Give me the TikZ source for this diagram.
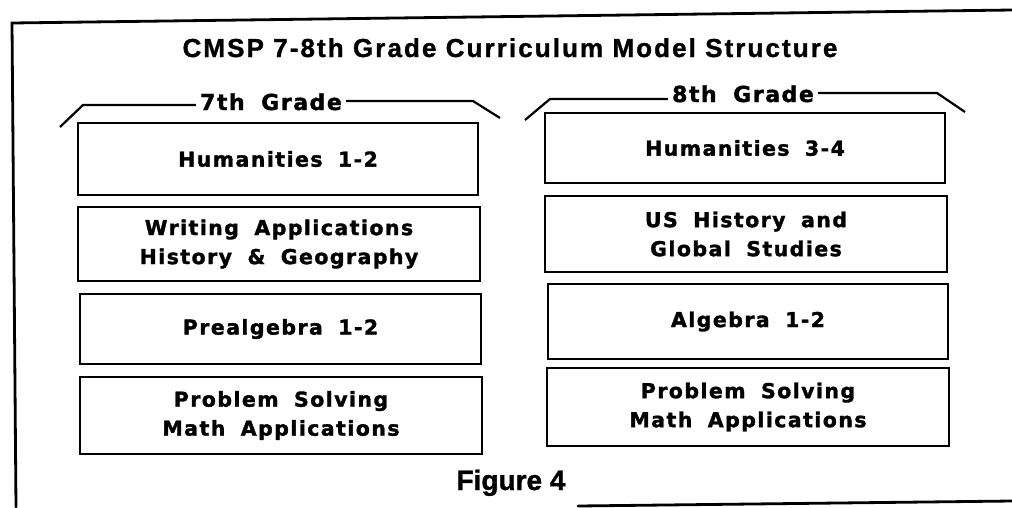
\documentclass[tikz,border=0pt]{standalone}
\usepackage{fontspec}
\setmainfont{Liberation Sans}
\newfontfamily\boxfont[LetterSpace=7,WordSpace=1.8,BoldFeatures={FakeBold=1.6}]{DejaVu Sans}
\newfontfamily\gradefont[LetterSpace=7,WordSpace=1.8,BoldFeatures={FakeBold=1.6}]{DejaVu Sans}
\newfontfamily\titlefont[LetterSpace=8,BoldFeatures={FakeBold=1.2}]{Liberation Sans}
\newfontfamily\capfont[BoldFeatures={FakeBold=1.2}]{Liberation Sans}
\begin{document}
\begin{tikzpicture}[x=1pt,y=-1pt,
  subj/.style={draw=black,line width=2.6pt,align=center,inner sep=0pt,
    font=\boxfont\bfseries\fontsize{20.5}{29}\selectfont},
  grade/.style={inner sep=4pt,font=\gradefont\bfseries\fontsize{22}{26}\selectfont},
  frameline/.style={line width=2.8pt,line cap=round},
  bracket/.style={line width=2.2pt}]
\useasboundingbox (0,0) rectangle (1012,507);
% frame
\draw[frameline] (16,507) -- (12,23) -- (1012,10);
\draw[frameline] (578,506) -- (1012,501);
% title
\node[anchor=base,inner sep=0pt,font=\titlefont\bfseries\fontsize{26}{30}\selectfont] (title) at (510,57) {CMSP 7-8th Grade Curriculum Model Structure};
% grade labels
\node[grade,anchor=base] (g7) at (271,110) {7th Grade};
\node[grade,anchor=base] (g8) at (743,102) {8th Grade};
\coordinate (a1) at (60,127); \coordinate (a2) at (83,105);
\coordinate (a3) at (473,101); \coordinate (a4) at (500,118);
\coordinate (b1) at (525,120); \coordinate (b2) at (550,99);
\coordinate (b3) at (937,93); \coordinate (b4) at (965,112);
\draw[bracket] (a1) -- (a2) -- (a2 -| g7.west);
\draw[bracket] (a3 -| g7.east) -- (a3) -- (a4);
\draw[bracket] (b1) -- (b2) -- (b2 -| g8.west);
\draw[bracket] (b3 -| g8.east) -- (b3) -- (b4);
% 7th grade boxes
\node[subj,minimum width=400pt,minimum height=72pt] (l1) at (278,159) {Humanities 1-2};
\node[subj,minimum width=402pt,minimum height=74pt] (l2) at (279,244) {Writing Applications\\History \& Geography};
\node[subj,minimum width=401pt,minimum height=70pt] (l3) at (280.5,329) {Prealgebra 1-2};
\node[subj,minimum width=402pt,minimum height=77pt] (l4) at (281,415.5) {Problem Solving\\Math Applications};
% 8th grade boxes
\node[subj,minimum width=400pt,minimum height=70pt] (r1) at (745,148) {Humanities 3-4};
\node[subj,minimum width=402pt,minimum height=76pt] (r2) at (746,234) {US History and\\Global Studies};
\node[subj,minimum width=400pt,minimum height=75pt] (r3) at (748,321.5) {Algebra 1-2};
\node[subj,minimum width=402pt,minimum height=78pt] (r4) at (748,407) {Problem Solving\\Math Applications};
% caption
\node[anchor=base,inner sep=0pt,font=\capfont\bfseries\fontsize{28}{32}\selectfont] (fig) at (511,490) {Figure 4};
\end{tikzpicture}
\end{document}
